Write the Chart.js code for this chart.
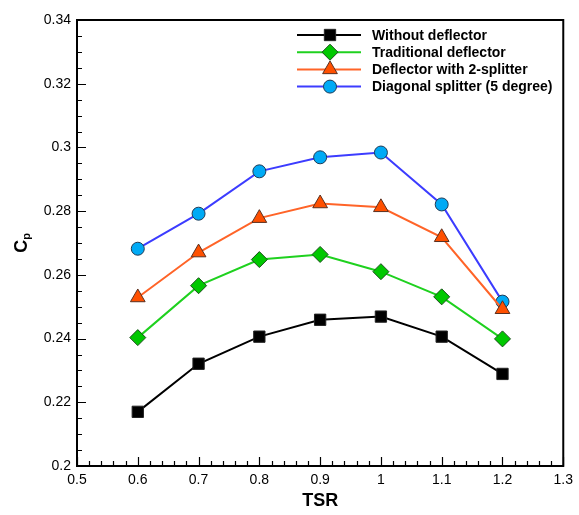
<!DOCTYPE html>
<html>
<head>
<meta charset="utf-8">
<script src="https://cdn.jsdelivr.net/npm/chart.js@4"></script>
<style>
  body { margin: 0; background: #fff; }
  canvas { display: block; }
</style>
</head>
<body>
<canvas id="cp-chart" width="579" height="515"></canvas>
<script>
// TSR values and power coefficient per configuration
const tsr = [0.6, 0.7, 0.8, 0.9, 1.0, 1.1, 1.2];
const withoutDeflector = [0.2170, 0.2321, 0.2406, 0.2459, 0.2469, 0.2406, 0.2289];
const traditionalDeflector = [0.2403, 0.2566, 0.2648, 0.2664, 0.2610, 0.2531, 0.2399];
const twoSplitter = [0.2529, 0.2670, 0.2778, 0.2824, 0.2812, 0.2718, 0.2492];
const diagonalSplitter = [0.2682, 0.2792, 0.2925, 0.2969, 0.2984, 0.2821, 0.2516];

const seriesNames = [
  "Without deflector",
  "Traditional deflector",
  "Deflector with 2-splitter",
  "Diagonal splitter (5 degree)"
];

const FONT = "Arial, 'Liberation Sans', sans-serif";

function toPoints(ys) {
  return tsr.map((x, i) => ({ x: x, y: ys[i] }));
}

function drawMarker(ctx, style, r, x, y, fill, stroke) {
  ctx.save();
  ctx.fillStyle = fill;
  ctx.strokeStyle = stroke;
  ctx.lineWidth = 1;
  ctx.beginPath();
  if (style === "rect") {
    const s = r * Math.SQRT1_2;
    ctx.rect(x - s, y - s, 2 * s, 2 * s);
  } else if (style === "rectRot") {
    ctx.moveTo(x, y - r);
    ctx.lineTo(x + r, y);
    ctx.lineTo(x, y + r);
    ctx.lineTo(x - r, y);
    ctx.closePath();
  } else if (style === "triangle") {
    ctx.moveTo(x, y - r);
    ctx.lineTo(x + r * 0.866, y + r * 0.5);
    ctx.lineTo(x - r * 0.866, y + r * 0.5);
    ctx.closePath();
  } else {
    ctx.arc(x, y, r, 0, Math.PI * 2);
  }
  ctx.fill();
  ctx.stroke();
  ctx.restore();
}

// frame, inward ticks, axis titles and legend
const decorations = {
  id: "decorations",
  afterDraw(chart) {
    const ctx = chart.ctx;
    const a = chart.chartArea;
    const xs = chart.scales.x;
    const ys = chart.scales.y;

    ctx.save();
    ctx.strokeStyle = "#000";
    ctx.lineWidth = 1.2;
    ctx.beginPath();
    for (let k = 0; k <= 28; k++) {
      const v = 0.2 + k * 0.005;
      const py = Math.round(ys.getPixelForValue(v)) + 0.5;
      const len = k % 4 === 0 ? 9 : 5;
      ctx.moveTo(a.left, py);
      ctx.lineTo(a.left + len, py);
    }
    for (let k = 0; k <= 40; k++) {
      const v = 0.5 + k * 0.02;
      const px = Math.round(xs.getPixelForValue(v)) + 0.5;
      const len = k % 5 === 0 ? 9 : 5;
      ctx.moveTo(px, a.bottom);
      ctx.lineTo(px, a.bottom - len);
    }
    ctx.stroke();

    ctx.lineWidth = 2;
    ctx.strokeRect(a.left, a.top, a.right - a.left, a.bottom - a.top);

    // axis titles
    ctx.fillStyle = "#000";
    ctx.textBaseline = "middle";
    ctx.textAlign = "center";
    ctx.font = "bold 18px " + FONT;
    ctx.fillText("TSR", (a.left + a.right) / 2, 501);

    ctx.translate(22, 243);
    ctx.rotate(-Math.PI / 2);
    ctx.textAlign = "left";
    ctx.font = "bold 18px " + FONT;
    const cw = ctx.measureText("C").width;
    ctx.font = "bold 11px " + FONT;
    const pw = ctx.measureText("p").width;
    const start = -(cw + pw) / 2;
    ctx.font = "bold 18px " + FONT;
    ctx.fillText("C", start, 0);
    ctx.font = "bold 11px " + FONT;
    ctx.fillText("p", start + cw, 5);
    ctx.restore();

    // legend
    ctx.save();
    chart.data.datasets.forEach((ds, i) => {
      const y = 35 + i * 17.2;
      ctx.strokeStyle = ds.borderColor;
      ctx.lineWidth = 2;
      ctx.beginPath();
      ctx.moveTo(297, y);
      ctx.lineTo(361, y);
      ctx.stroke();
      drawMarker(ctx, ds.pointStyle, ds.pointRadius, 330, y,
        ds.pointBackgroundColor, ds.pointBorderColor);
      ctx.fillStyle = "#000";
      ctx.font = "bold 14px " + FONT;
      ctx.textAlign = "left";
      ctx.textBaseline = "middle";
      ctx.fillText(seriesNames[i], 372, y + 1);
    });
    ctx.restore();
  }
};

const datasets = [
  {
    data: toPoints(withoutDeflector),
    borderColor: "#000000",
    pointBackgroundColor: "#000000",
    pointBorderColor: "#222222",
    pointStyle: "rect",
    pointRadius: 8
  },
  {
    data: toPoints(traditionalDeflector),
    borderColor: "#1fd11f",
    pointBackgroundColor: "#00c800",
    pointBorderColor: "#1a4d1a",
    pointStyle: "rectRot",
    pointRadius: 8
  },
  {
    data: toPoints(twoSplitter),
    borderColor: "#ff6428",
    pointBackgroundColor: "#ff5000",
    pointBorderColor: "#5a3020",
    pointStyle: "triangle",
    pointRadius: 8.5
  },
  {
    data: toPoints(diagonalSplitter),
    borderColor: "#3c3cff",
    pointBackgroundColor: "#00aaf5",
    pointBorderColor: "#1f3a55",
    pointStyle: "circle",
    pointRadius: 6.5
  }
].map((ds) => Object.assign({
  borderWidth: 2,
  pointBorderWidth: 1,
  pointHoverRadius: ds.pointRadius,
  tension: 0,
  fill: false
}, ds));

new Chart(document.getElementById("cp-chart").getContext("2d"), {
  type: "line",
  data: { datasets: datasets },
  plugins: [decorations],
  options: {
    responsive: false,
    animation: false,
    layout: { padding: { top: 20, right: 11, left: 0, bottom: 0 } },
    plugins: {
      legend: { display: false },
      tooltip: { enabled: false }
    },
    scales: {
      x: {
        type: "linear",
        min: 0.5,
        max: 1.3,
        grid: { display: false, drawTicks: false },
        border: { display: false },
        afterFit(scale) { scale.height = 49; },
        ticks: {
          stepSize: 0.1,
          padding: 6,
          color: "#000",
          font: { family: FONT, size: 14 },
          callback: (v) => String(Number(v.toFixed(1)))
        }
      },
      y: {
        min: 0.2,
        max: 0.34,
        grid: { display: false, drawTicks: false },
        border: { display: false },
        afterFit(scale) { scale.width = 77; },
        ticks: {
          stepSize: 0.02,
          padding: 6,
          color: "#000",
          font: { family: FONT, size: 14 },
          callback: (v) => String(Number(v.toFixed(2)))
        }
      }
    }
  }
});
</script>
</body>
</html>
